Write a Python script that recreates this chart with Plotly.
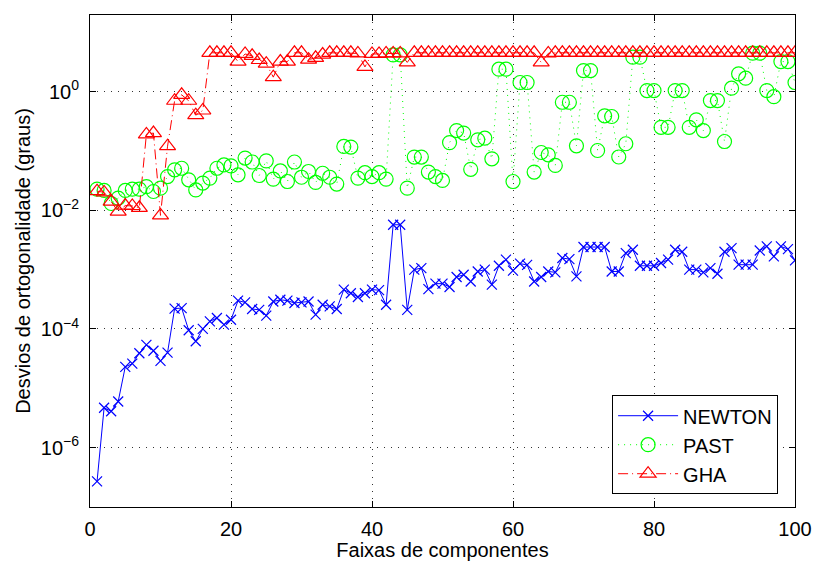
import plotly.graph_objects as go

# component band index
faixas = list(range(1, 101))

newton = [
    2.7e-7, 4.7e-6, 4.1e-6, 6.0e-6, 2.3e-5, 2.6e-5, 3.9e-5, 5.4e-5, 4.3e-5, 2.9e-5,
    4.0e-5, 2.2e-4, 2.25e-4, 9.5e-5, 6.2e-5, 1.0e-4, 1.34e-4, 1.53e-4, 1.18e-4, 1.43e-4,
    3.0e-4, 2.8e-4, 2.17e-4, 2.1e-4, 1.68e-4, 2.9e-4, 3.1e-4, 3.0e-4, 2.74e-4, 2.8e-4,
    2.9e-4, 1.74e-4, 2.56e-4, 2.4e-4, 2.17e-4, 4.6e-4, 4.0e-4, 3.46e-4, 4.0e-4, 4.6e-4,
    4.5e-4, 2.56e-4, 5.7e-3, 5.7e-3, 2.1e-4, 1.0e-3, 1.06e-3, 4.7e-4, 5.8e-4, 5.8e-4,
    5.1e-4, 7.5e-4, 8.2e-4, 6.3e-4, 9.3e-4, 1.0e-3, 5.6e-4, 1.16e-3, 1.47e-3, 9.6e-4,
    1.26e-3, 1.2e-3, 6.3e-4, 7.5e-4, 9.3e-4, 9.0e-4, 1.57e-3, 1.5e-3, 7.7e-4, 2.4e-3,
    2.4e-3, 2.4e-3, 2.4e-3, 9.3e-4, 9.3e-4, 1.9e-3, 2.16e-3, 1.16e-3, 1.16e-3, 1.16e-3,
    1.29e-3, 1.47e-3, 2.16e-3, 2.0e-3, 1.0e-3, 1.0e-3, 9.0e-4, 1.06e-3, 8.5e-4, 2.0e-3,
    2.3e-3, 1.21e-3, 1.21e-3, 1.21e-3, 2.1e-3, 2.46e-3, 1.67e-3, 2.46e-3, 2.22e-3, 1.43e-3,
]

past = [
    0.0227, 0.0216, 0.013, 0.016, 0.0216, 0.0227, 0.0227, 0.025, 0.0207, 0.0236,
    0.037, 0.048, 0.051, 0.0326, 0.022, 0.0287, 0.0348, 0.051, 0.058, 0.056,
    0.0396, 0.0757, 0.065, 0.0385, 0.068, 0.0335, 0.046, 0.0305, 0.065, 0.036,
    0.045, 0.0294, 0.042, 0.036, 0.0276, 0.119, 0.116, 0.0348, 0.043, 0.037,
    0.043, 0.0335, 4.15, 4.15, 0.0236, 0.0787, 0.0787, 0.044, 0.037, 0.0318,
    0.138, 0.22, 0.2, 0.049, 0.154, 0.164, 0.0736, 2.38, 2.38, 0.0305,
    1.42, 1.42, 0.044, 0.094, 0.086, 0.057, 0.66, 0.66, 0.122, 2.26,
    2.26, 0.1016, 0.39, 0.38, 0.079, 0.132, 3.8, 3.8, 1.04, 1.04,
    0.25, 0.25, 1.04, 1.04, 0.25, 0.334, 0.22, 0.705, 0.705, 0.144,
    1.14, 1.99, 1.68, 4.43, 4.43, 1.04, 0.82, 3.2, 3.2, 1.42,
]

gha = [
    0.021, 0.020, 0.014, 0.0095, 0.012, 0.0118, 0.011, 0.19, 0.20, 0.0082,
    0.12, 0.70, 0.88, 0.70, 0.40, 0.48, 4.5, 4.5, 4.5, 4.5,
    3.2, 4.3, 4.0, 3.4, 2.95, 1.75, 3.2, 3.2, 4.5, 4.5,
    3.45, 3.7, 4.2, 4.5, 4.5, 4.5, 4.5, 4.4, 2.6, 4.3,
    4.3, 4.4, 4.4, 4.4, 3.1, 4.5, 4.5, 4.5, 4.5, 4.5,
    4.5, 4.5, 4.5, 4.5, 4.5, 4.5, 4.5, 4.5, 4.5, 4.5,
    4.5, 4.5, 4.5, 3.1, 4.4, 4.5, 4.5, 4.5, 4.5, 4.5,
    4.5, 4.5, 4.5, 4.5, 4.5, 4.5, 4.5, 4.5, 4.5, 4.5,
    4.5, 4.5, 4.5, 4.5, 4.5, 4.5, 4.5, 4.5, 4.5, 4.5,
    4.5, 4.5, 4.5, 4.5, 4.5, 4.5, 4.5, 4.5, 4.5, 4.5,
]

x_ticks = [0, 20, 40, 60, 80, 100]
y_ticks = [1e-6, 1e-4, 1e-2, 1e0]
y_labels = ["10<sup>\u22126</sup>", "10<sup>\u22124</sup>", "10<sup>\u22122</sup>", "10<sup>0</sup>"]

FONT = "Liberation Sans, Arial, Helvetica, sans-serif"
FS = 20

fig = go.Figure()
fig.add_trace(go.Scatter(
    x=faixas, y=newton, name="NEWTON", mode="lines+markers",
    line=dict(color="#0000ff", width=1),
    marker=dict(symbol="x-thin", size=10, line=dict(color="#0000ff", width=1.2)),
))
fig.add_trace(go.Scatter(
    x=faixas, y=past, name="PAST", mode="lines+markers",
    line=dict(color="#00ff00", width=1, dash="1px,5px"),
    marker=dict(symbol="circle-open", size=14, color="#00ff00", line=dict(width=1.2)),
))
fig.add_trace(go.Scatter(
    x=faixas, y=gha, name="GHA", mode="lines+markers",
    line=dict(color="#ff0000", width=1, dash="10px,4px,1px,4px"),
    marker=dict(symbol="triangle-up-open", size=14, color="#ff0000", line=dict(width=1.2)),
))

axis_common = dict(
    showline=True, linecolor="black", linewidth=1, mirror="ticks",
    ticks="inside", ticklen=6, tickcolor="black",
    showgrid=True, gridcolor="#333333", gridwidth=1, griddash="1px,6px",
    zeroline=False, automargin=False,
    tickfont=dict(family=FONT, size=FS, color="black"),
)

fig.update_xaxes(
    range=[0, 100], tickvals=x_ticks, ticklabelstandoff=4,
    title=dict(text="Faixas de componentes", font=dict(family=FONT, size=FS, color="black"), standoff=2),
    **axis_common,
)
fig.update_yaxes(
    type="log", range=[-7, 1.29], tickvals=y_ticks, ticktext=y_labels,
    ticklabelstandoff=6,
    title=dict(text="Desvios de ortogonalidade (graus)", font=dict(family=FONT, size=FS, color="black"), standoff=4),
    **axis_common,
)

fig.update_layout(
    width=816, height=561,
    margin=dict(l=90, r=21, t=15, b=54),
    paper_bgcolor="white", plot_bgcolor="white",
    font=dict(family=FONT, size=FS, color="black"),
    showlegend=True,
    legend=dict(
        x=0.976, y=0.026, xanchor="right", yanchor="bottom",
        bgcolor="white", bordercolor="black", borderwidth=1,
        font=dict(family=FONT, size=FS, color="black"),
        itemwidth=60, tracegroupgap=0,
    ),
)

fig.write_html("out.html")
